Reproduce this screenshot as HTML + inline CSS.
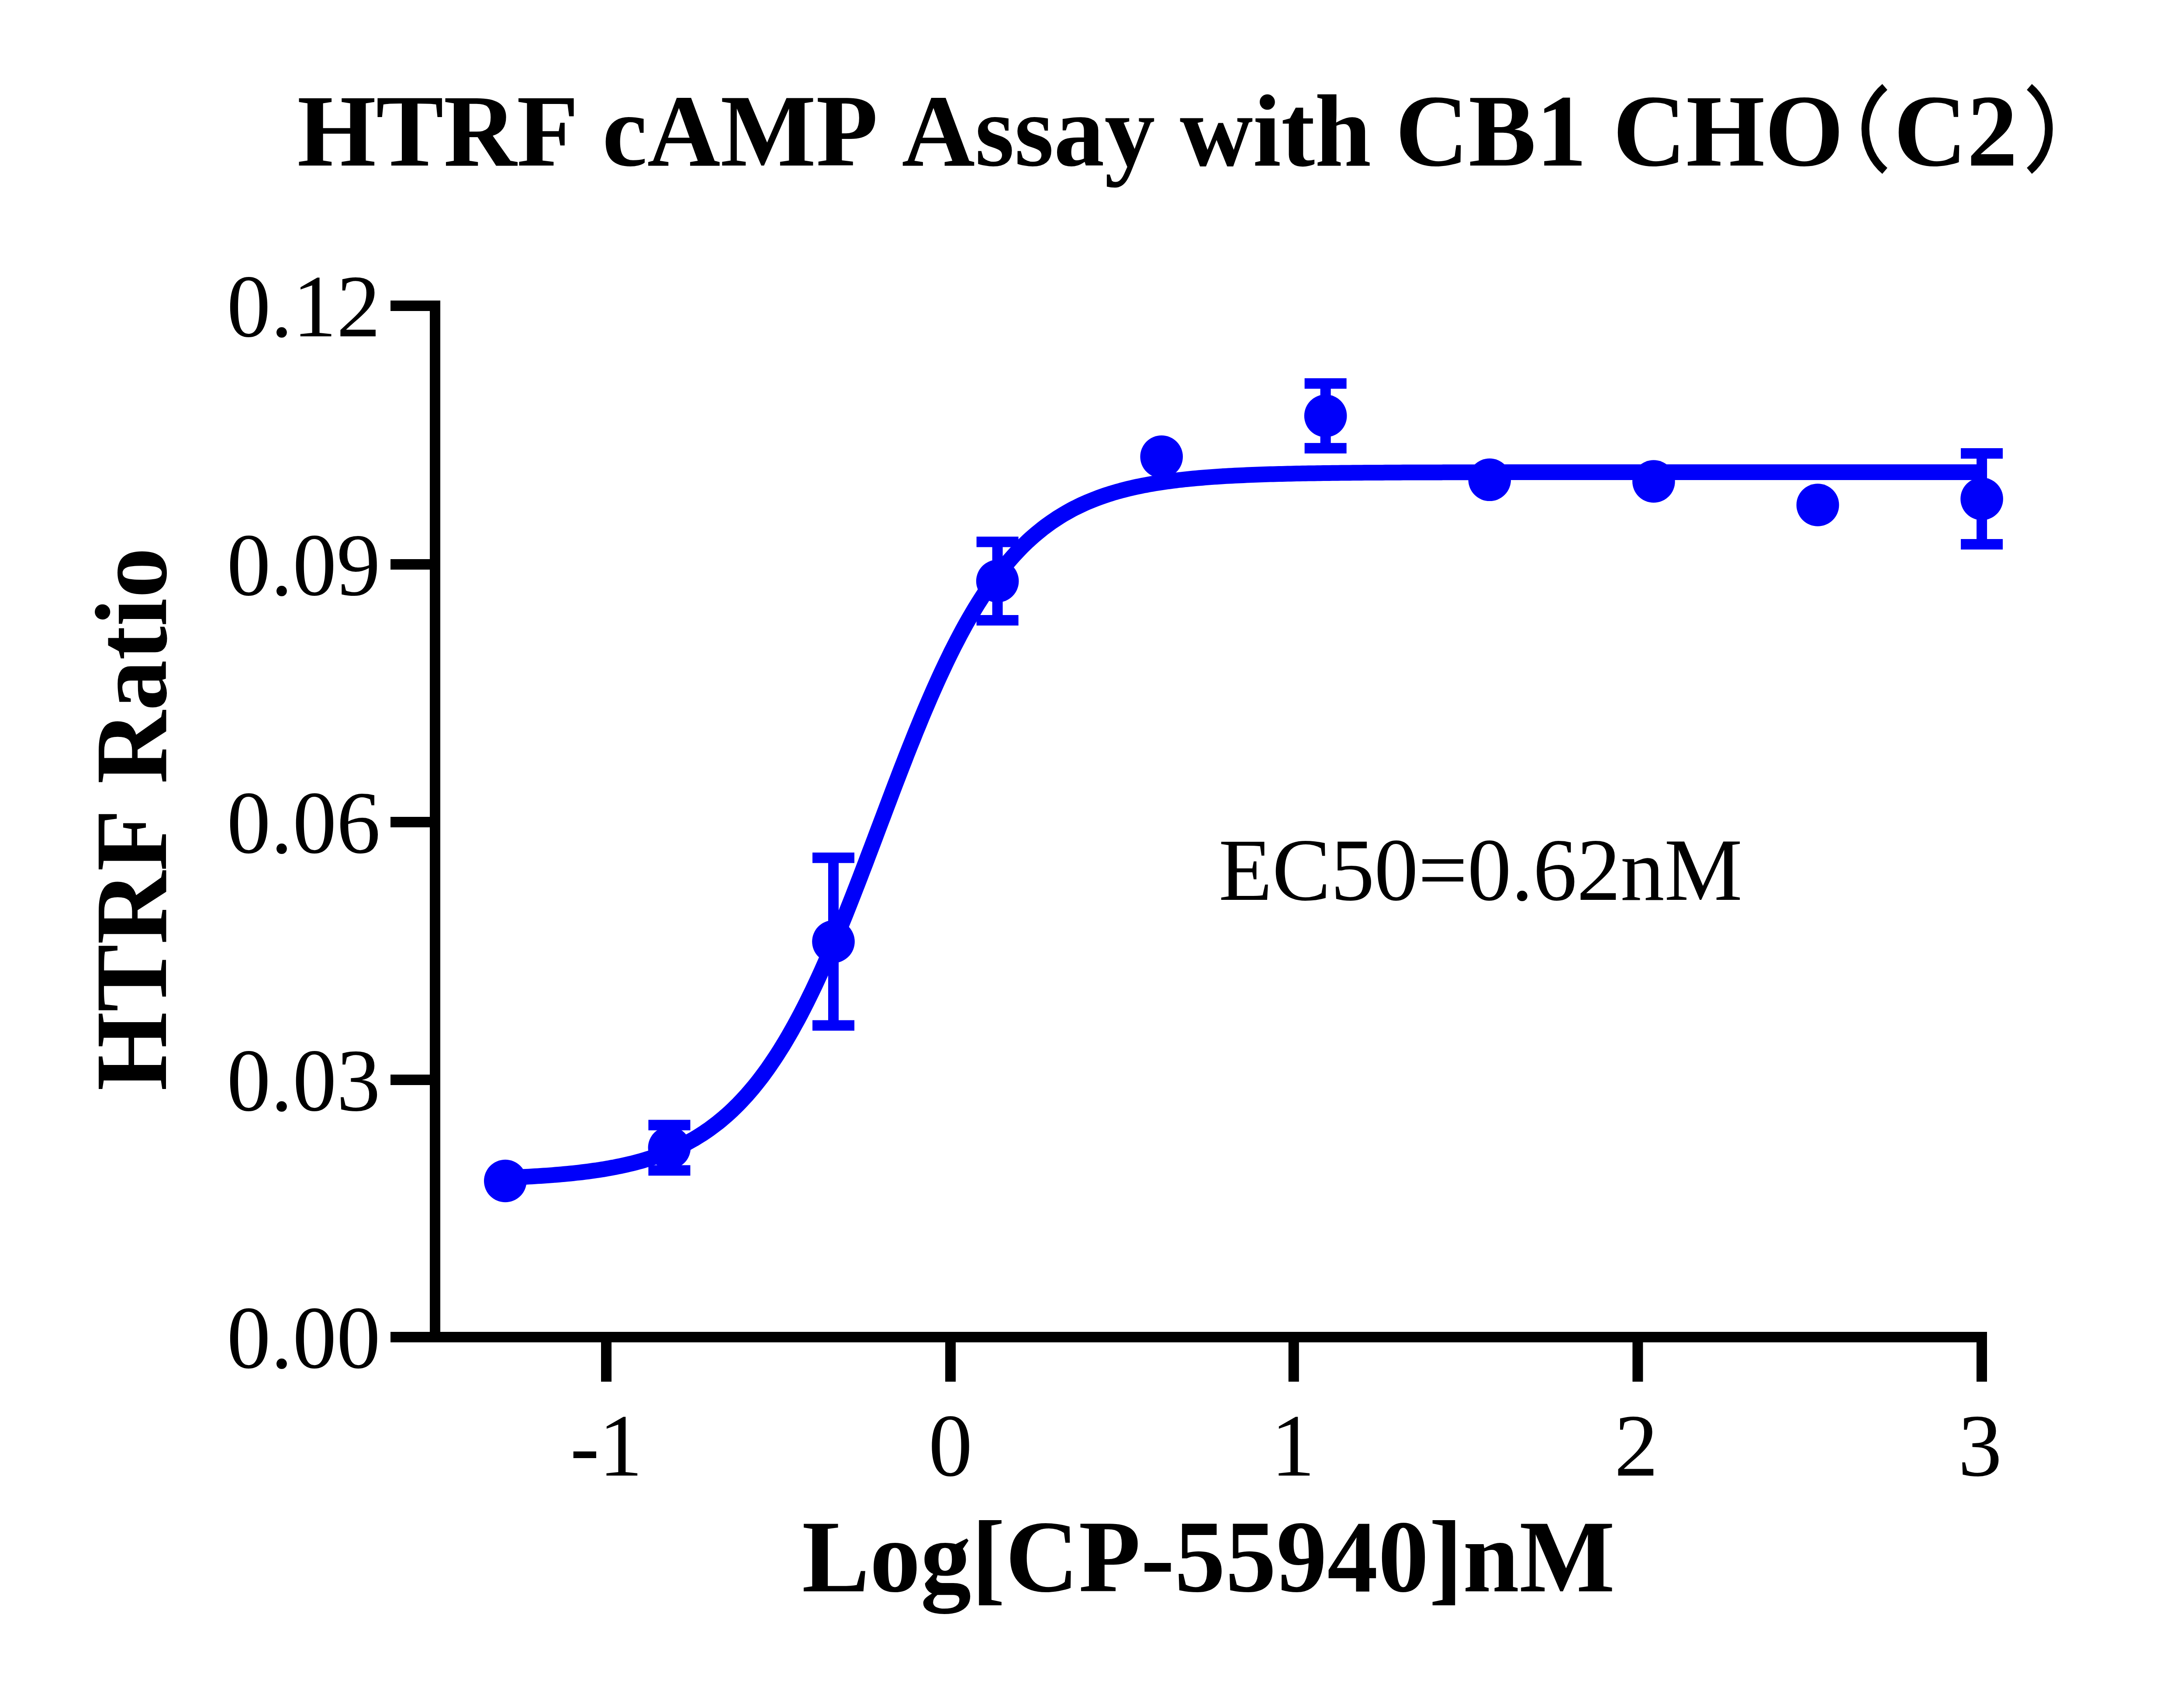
<!DOCTYPE html>
<html><head><meta charset="utf-8"><style>
html,body{margin:0;padding:0;background:#fff;overflow:hidden;}
svg{display:block;}
text{font-kerning:none;}
.r{font-family:"Liberation Serif",serif;font-size:201px;fill:#000;}
.b{font-family:"Liberation Serif",serif;font-size:232px;font-weight:bold;fill:#000;}
</style></head><body>
<svg width="5108" height="3862" viewBox="0 0 5108 3862">
<rect width="5108" height="3862" fill="#fff"/>
<text transform="translate(0 378.50) scale(1 1.0110)" x="680.40" y="0" class="b">HTRF</text>
<text transform="translate(0 378.50) scale(1 1.0110)" x="1378.70" y="0" class="b">cAMP</text>
<text transform="translate(0 378.50) scale(1 1.0110)" x="2064.50" y="0" class="b">Assay</text>
<text transform="translate(0 378.50) scale(1 1.0110)" x="2701.00" y="0" class="b">with</text>
<text transform="translate(0 378.50) scale(1 1.0110)" x="3194.50" y="0" class="b">CB1</text>
<text transform="translate(0 378.50) scale(1 1.0110)" x="3692.60" y="0" class="b">CHO</text>
<text transform="translate(0 378.50) scale(1 1.0110)" x="4335.60" y="0" class="b">C2</text>
<path d="M4315.1 199 A126 126 0 0 0 4315.1 391.2" fill="none" stroke="#000" stroke-width="18"/>
<path d="M4646 199 A126 126 0 0 1 4646 391.2" fill="none" stroke="#000" stroke-width="18"/>
<text transform="translate(380.4 2496.9) rotate(-90) scale(1 1.0110)" x="0" y="0" class="b">HTRF Ratio</text>
<text transform="translate(0 3643.30) scale(1 1.0110)" x="1836.10" y="0" class="b" textLength="1861.2" lengthAdjust="spacing">Log[CP-55940]nM</text>
<text transform="translate(0 2059.90) scale(1 1.0100)" x="2790.00" y="0" class="r" textLength="1198.9" lengthAdjust="spacing">EC50=0.62nM</text>
<rect x="984" y="688" width="24" height="2385" fill="#000"/>
<rect x="894" y="3049" width="3655" height="24" fill="#000"/>
<rect x="894" y="688.00" width="114" height="24" fill="#000"/>
<rect x="894" y="1280.00" width="114" height="24" fill="#000"/>
<rect x="894" y="1870.00" width="114" height="24" fill="#000"/>
<rect x="894" y="2460.00" width="114" height="24" fill="#000"/>
<rect x="894" y="3049.00" width="114" height="24" fill="#000"/>
<rect x="1376.00" y="3049" width="24" height="114" fill="#000"/>
<rect x="2164.00" y="3049" width="24" height="114" fill="#000"/>
<rect x="2949.80" y="3049" width="24" height="114" fill="#000"/>
<rect x="3737.40" y="3049" width="24" height="114" fill="#000"/>
<rect x="4525.00" y="3049" width="24" height="114" fill="#000"/>
<text transform="translate(0 769.70) scale(1 1.0100)" x="871.00" y="0" class="r" text-anchor="end">0.12</text>
<text transform="translate(0 1361.70) scale(1 1.0100)" x="871.00" y="0" class="r" text-anchor="end">0.09</text>
<text transform="translate(0 1951.70) scale(1 1.0100)" x="871.00" y="0" class="r" text-anchor="end">0.06</text>
<text transform="translate(0 2541.70) scale(1 1.0100)" x="871.00" y="0" class="r" text-anchor="end">0.03</text>
<text transform="translate(0 3130.70) scale(1 1.0100)" x="871.00" y="0" class="r" text-anchor="end">0.00</text>
<text transform="translate(0 3377.60) scale(1 1.0100)" x="1305.30" y="0" class="r">-</text>
<text transform="translate(0 3377.60) scale(1 1.0100)" x="1370.65" y="0" class="r">1</text>
<text transform="translate(0 3377.60) scale(1 1.0100)" x="2176.00" y="0" class="r" text-anchor="middle">0</text>
<text transform="translate(0 3377.60) scale(1 1.0100)" x="2909.65" y="0" class="r">1</text>
<text transform="translate(0 3377.60) scale(1 1.0100)" x="3746.00" y="0" class="r" text-anchor="middle">2</text>
<text transform="translate(0 3377.60) scale(1 1.0100)" x="4533.00" y="0" class="r" text-anchor="middle">3</text>
<path d="M1156.8 2696.1 L1163.6 2695.8 L1170.3 2695.6 L1177.1 2695.3 L1183.8 2695.0 L1190.6 2694.6 L1197.4 2694.3 L1204.1 2694.0 L1210.9 2693.6 L1217.6 2693.2 L1224.4 2692.8 L1231.2 2692.4 L1237.9 2692.0 L1244.7 2691.5 L1251.4 2691.1 L1258.2 2690.6 L1265.0 2690.1 L1271.7 2689.5 L1278.5 2689.0 L1285.2 2688.4 L1292.0 2687.8 L1298.8 2687.1 L1305.5 2686.5 L1312.3 2685.8 L1319.0 2685.0 L1325.8 2684.3 L1332.6 2683.5 L1339.3 2682.7 L1346.1 2681.8 L1352.8 2680.9 L1359.6 2679.9 L1366.4 2679.0 L1373.1 2677.9 L1379.9 2676.9 L1386.7 2675.7 L1393.4 2674.6 L1400.2 2673.3 L1406.9 2672.1 L1413.7 2670.7 L1420.5 2669.3 L1427.2 2667.9 L1434.0 2666.4 L1440.7 2664.8 L1447.5 2663.2 L1454.3 2661.5 L1461.0 2659.7 L1467.8 2657.8 L1474.5 2655.9 L1481.3 2653.8 L1488.1 2651.7 L1494.8 2649.5 L1501.6 2647.2 L1508.3 2644.8 L1515.1 2642.3 L1521.9 2639.7 L1528.6 2637.0 L1535.4 2634.2 L1542.1 2631.3 L1548.9 2628.2 L1555.7 2625.0 L1562.4 2621.7 L1569.2 2618.3 L1575.9 2614.7 L1582.7 2610.9 L1589.5 2607.1 L1596.2 2603.0 L1603.0 2598.8 L1609.8 2594.5 L1616.5 2589.9 L1623.3 2585.2 L1630.0 2580.3 L1636.8 2575.2 L1643.6 2570.0 L1650.3 2564.5 L1657.1 2558.8 L1663.8 2552.9 L1670.6 2546.8 L1677.4 2540.5 L1684.1 2533.9 L1690.9 2527.2 L1697.6 2520.1 L1704.4 2512.8 L1711.2 2505.3 L1717.9 2497.5 L1724.7 2489.5 L1731.4 2481.2 L1738.2 2472.6 L1745.0 2463.7 L1751.7 2454.6 L1758.5 2445.2 L1765.2 2435.4 L1772.0 2425.4 L1778.8 2415.1 L1785.5 2404.5 L1792.3 2393.6 L1799.0 2382.4 L1805.8 2370.9 L1812.6 2359.0 L1819.3 2346.9 L1826.1 2334.5 L1832.9 2321.7 L1839.6 2308.7 L1846.4 2295.3 L1853.1 2281.7 L1859.9 2267.8 L1866.7 2253.5 L1873.4 2239.0 L1880.2 2224.2 L1886.9 2209.2 L1893.7 2193.8 L1900.5 2178.3 L1907.2 2162.4 L1914.0 2146.4 L1920.7 2130.1 L1927.5 2113.6 L1934.3 2096.9 L1941.0 2080.0 L1947.8 2062.9 L1954.5 2045.7 L1961.3 2028.3 L1968.1 2010.8 L1974.8 1993.2 L1981.6 1975.5 L1988.3 1957.7 L1995.1 1939.8 L2001.9 1921.9 L2008.6 1904.0 L2015.4 1886.0 L2022.2 1868.1 L2028.9 1850.2 L2035.7 1832.3 L2042.4 1814.5 L2049.2 1796.7 L2056.0 1779.1 L2062.7 1761.5 L2069.5 1744.1 L2076.2 1726.8 L2083.0 1709.7 L2089.8 1692.7 L2096.5 1675.9 L2103.3 1659.4 L2110.0 1643.0 L2116.8 1626.8 L2123.6 1610.9 L2130.3 1595.2 L2137.1 1579.8 L2143.8 1564.7 L2150.6 1549.8 L2157.4 1535.1 L2164.1 1520.8 L2170.9 1506.7 L2177.6 1493.0 L2184.4 1479.5 L2191.2 1466.4 L2197.9 1453.5 L2204.7 1440.9 L2211.4 1428.7 L2218.2 1416.8 L2225.0 1405.1 L2231.7 1393.8 L2238.5 1382.7 L2245.3 1372.0 L2252.0 1361.6 L2258.8 1351.5 L2265.5 1341.6 L2272.3 1332.1 L2279.1 1322.8 L2285.8 1313.9 L2292.6 1305.2 L2299.3 1296.7 L2306.1 1288.6 L2312.9 1280.7 L2319.6 1273.1 L2326.4 1265.7 L2333.1 1258.6 L2339.9 1251.7 L2346.7 1245.0 L2353.4 1238.6 L2360.2 1232.4 L2366.9 1226.5 L2373.7 1220.7 L2380.5 1215.2 L2387.2 1209.8 L2394.0 1204.6 L2400.7 1199.7 L2407.5 1194.9 L2414.3 1190.3 L2421.0 1185.9 L2427.8 1181.6 L2434.5 1177.5 L2441.3 1173.6 L2448.1 1169.8 L2454.8 1166.1 L2461.6 1162.6 L2468.4 1159.3 L2475.1 1156.0 L2481.9 1152.9 L2488.6 1149.9 L2495.4 1147.1 L2502.2 1144.3 L2508.9 1141.7 L2515.7 1139.1 L2522.4 1136.7 L2529.2 1134.4 L2536.0 1132.1 L2542.7 1130.0 L2549.5 1127.9 L2556.2 1125.9 L2563.0 1124.1 L2569.8 1122.2 L2576.5 1120.5 L2583.3 1118.8 L2590.0 1117.2 L2596.8 1115.7 L2603.6 1114.2 L2610.3 1112.8 L2617.1 1111.4 L2623.8 1110.2 L2630.6 1108.9 L2637.4 1107.7 L2644.1 1106.6 L2650.9 1105.5 L2657.6 1104.4 L2664.4 1103.4 L2671.2 1102.5 L2677.9 1101.6 L2684.7 1100.7 L2691.5 1099.8 L2698.2 1099.0 L2705.0 1098.3 L2711.7 1097.5 L2718.5 1096.8 L2725.3 1096.1 L2732.0 1095.5 L2738.8 1094.9 L2745.5 1094.3 L2752.3 1093.7 L2759.1 1093.1 L2765.8 1092.6 L2772.6 1092.1 L2779.3 1091.6 L2786.1 1091.2 L2792.9 1090.8 L2799.6 1090.3 L2806.4 1089.9 L2813.1 1089.5 L2819.9 1089.2 L2826.7 1088.8 L2833.4 1088.5 L2840.2 1088.2 L2846.9 1087.9 L2853.7 1087.6 L2860.5 1087.3 L2867.2 1087.0 L2874.0 1086.7 L2880.7 1086.5 L2887.5 1086.3 L2894.3 1086.0 L2901.0 1085.8 L2907.8 1085.6 L2914.6 1085.4 L2921.3 1085.2 L2928.1 1085.0 L2934.8 1084.9 L2941.6 1084.7 L2948.4 1084.5 L2955.1 1084.4 L2961.9 1084.2 L2968.6 1084.1 L2975.4 1084.0 L2982.2 1083.8 L2988.9 1083.7 L2995.7 1083.6 L3002.4 1083.5 L3009.2 1083.4 L3016.0 1083.3 L3022.7 1083.2 L3029.5 1083.1 L3036.2 1083.0 L3043.0 1082.9 L3049.8 1082.8 L3056.5 1082.7 L3063.3 1082.7 L3070.0 1082.6 L3076.8 1082.5 L3083.6 1082.5 L3090.3 1082.4 L3097.1 1082.3 L3103.8 1082.3 L3110.6 1082.2 L3117.4 1082.2 L3124.1 1082.1 L3130.9 1082.1 L3137.7 1082.0 L3144.4 1082.0 L3151.2 1081.9 L3157.9 1081.9 L3164.7 1081.9 L3171.5 1081.8 L3178.2 1081.8 L3185.0 1081.8 L3191.7 1081.7 L3198.5 1081.7 L3205.3 1081.7 L3212.0 1081.6 L3218.8 1081.6 L3225.5 1081.6 L3232.3 1081.6 L3239.1 1081.5 L3245.8 1081.5 L3252.6 1081.5 L3259.3 1081.5 L3266.1 1081.4 L3272.9 1081.4 L3279.6 1081.4 L3286.4 1081.4 L3293.1 1081.4 L3299.9 1081.4 L3306.7 1081.3 L3313.4 1081.3 L3320.2 1081.3 L3326.9 1081.3 L3333.7 1081.3 L3340.5 1081.3 L3347.2 1081.3 L3354.0 1081.2 L3360.8 1081.2 L3367.5 1081.2 L3374.3 1081.2 L3381.0 1081.2 L3387.8 1081.2 L3394.6 1081.2 L3401.3 1081.2 L3408.1 1081.2 L3414.8 1081.2 L3421.6 1081.2 L3428.4 1081.2 L3435.1 1081.1 L3441.9 1081.1 L3448.6 1081.1 L3455.4 1081.1 L3462.2 1081.1 L3468.9 1081.1 L3475.7 1081.1 L3482.4 1081.1 L3489.2 1081.1 L3496.0 1081.1 L3502.7 1081.1 L3509.5 1081.1 L3516.2 1081.1 L3523.0 1081.1 L3529.8 1081.1 L3536.5 1081.1 L3543.3 1081.1 L3550.0 1081.1 L3556.8 1081.1 L3563.6 1081.1 L3570.3 1081.1 L3577.1 1081.1 L3583.9 1081.1 L3590.6 1081.1 L3597.4 1081.1 L3604.1 1081.0 L3610.9 1081.0 L3617.7 1081.0 L3624.4 1081.0 L3631.2 1081.0 L3637.9 1081.0 L3644.7 1081.0 L3651.5 1081.0 L3658.2 1081.0 L3665.0 1081.0 L3671.7 1081.0 L3678.5 1081.0 L3685.3 1081.0 L3692.0 1081.0 L3698.8 1081.0 L3705.5 1081.0 L3712.3 1081.0 L3719.1 1081.0 L3725.8 1081.0 L3732.6 1081.0 L3739.3 1081.0 L3746.1 1081.0 L3752.9 1081.0 L3759.6 1081.0 L3766.4 1081.0 L3773.2 1081.0 L3779.9 1081.0 L3786.7 1081.0 L3793.4 1081.0 L3800.2 1081.0 L3807.0 1081.0 L3813.7 1081.0 L3820.5 1081.0 L3827.2 1081.0 L3834.0 1081.0 L3840.8 1081.0 L3847.5 1081.0 L3854.3 1081.0 L3861.0 1081.0 L3867.8 1081.0 L3874.6 1081.0 L3881.3 1081.0 L3888.1 1081.0 L3894.8 1081.0 L3901.6 1081.0 L3908.4 1081.0 L3915.1 1081.0 L3921.9 1081.0 L3928.6 1081.0 L3935.4 1081.0 L3942.2 1081.0 L3948.9 1081.0 L3955.7 1081.0 L3962.4 1081.0 L3969.2 1081.0 L3976.0 1081.0 L3982.7 1081.0 L3989.5 1081.0 L3996.3 1081.0 L4003.0 1081.0 L4009.8 1081.0 L4016.5 1081.0 L4023.3 1081.0 L4030.1 1081.0 L4036.8 1081.0 L4043.6 1081.0 L4050.3 1081.0 L4057.1 1081.0 L4063.9 1081.0 L4070.6 1081.0 L4077.4 1081.0 L4084.1 1081.0 L4090.9 1081.0 L4097.7 1081.0 L4104.4 1081.0 L4111.2 1081.0 L4117.9 1081.0 L4124.7 1081.0 L4131.5 1081.0 L4138.2 1081.0 L4145.0 1081.0 L4151.7 1081.0 L4158.5 1081.0 L4165.3 1081.0 L4172.0 1081.0 L4178.8 1081.0 L4185.5 1081.0 L4192.3 1081.0 L4199.1 1081.0 L4205.8 1081.0 L4212.6 1081.0 L4219.4 1081.0 L4226.1 1081.0 L4232.9 1081.0 L4239.6 1081.0 L4246.4 1081.0 L4253.2 1081.0 L4259.9 1081.0 L4266.7 1081.0 L4273.4 1081.0 L4280.2 1081.0 L4287.0 1081.0 L4293.7 1081.0 L4300.5 1081.0 L4307.2 1081.0 L4314.0 1081.0 L4320.8 1081.0 L4327.5 1081.0 L4334.3 1081.0 L4341.0 1081.0 L4347.8 1081.0 L4354.6 1081.0 L4361.3 1081.0 L4368.1 1081.0 L4374.8 1081.0 L4381.6 1081.0 L4388.4 1081.0 L4395.1 1081.0 L4401.9 1081.0 L4408.6 1081.0 L4415.4 1081.0 L4422.2 1081.0 L4428.9 1081.0 L4435.7 1081.0 L4442.5 1081.0 L4449.2 1081.0 L4456.0 1081.0 L4462.7 1081.0 L4469.5 1081.0 L4476.3 1081.0 L4483.0 1081.0 L4489.8 1081.0 L4496.5 1081.0 L4503.3 1081.0 L4510.1 1081.0 L4516.8 1081.0 L4523.6 1081.0 L4530.3 1081.0 L4537.1 1081.0" fill="none" stroke="#0000fa" stroke-width="36" stroke-linejoin="round"/>
<circle cx="1156.8" cy="2703.5" r="48.8" fill="#0000fa"/>
<rect x="1520.4" y="2575.6" width="24" height="103.8" fill="#0000fa"/>
<rect x="1484.4" y="2563.6" width="96" height="24" fill="#0000fa"/>
<rect x="1484.4" y="2667.4" width="96" height="24" fill="#0000fa"/>
<circle cx="1532.4" cy="2627.5" r="48.8" fill="#0000fa"/>
<rect x="1896.0" y="1963.7" width="24" height="383.8" fill="#0000fa"/>
<rect x="1860.0" y="1951.7" width="96" height="24" fill="#0000fa"/>
<rect x="1860.0" y="2335.5" width="96" height="24" fill="#0000fa"/>
<circle cx="1908.0" cy="2155.6" r="48.8" fill="#0000fa"/>
<rect x="2271.6" y="1240.5" width="24" height="179.5" fill="#0000fa"/>
<rect x="2235.6" y="1228.5" width="96" height="24" fill="#0000fa"/>
<rect x="2235.6" y="1408.0" width="96" height="24" fill="#0000fa"/>
<circle cx="2283.6" cy="1330.3" r="48.8" fill="#0000fa"/>
<circle cx="2659.2" cy="1045.5" r="48.8" fill="#0000fa"/>
<rect x="3022.7" y="877.9" width="24" height="148.2" fill="#0000fa"/>
<rect x="2986.7" y="865.9" width="96" height="24" fill="#0000fa"/>
<rect x="2986.7" y="1014.1" width="96" height="24" fill="#0000fa"/>
<circle cx="3034.7" cy="952.0" r="48.8" fill="#0000fa"/>
<circle cx="3410.3" cy="1098.3" r="48.8" fill="#0000fa"/>
<circle cx="3785.9" cy="1102.0" r="48.8" fill="#0000fa"/>
<circle cx="4161.5" cy="1156.0" r="48.8" fill="#0000fa"/>
<rect x="4525.1" y="1038.0" width="24" height="208.0" fill="#0000fa"/>
<rect x="4489.1" y="1026.0" width="96" height="24" fill="#0000fa"/>
<rect x="4489.1" y="1234.0" width="96" height="24" fill="#0000fa"/>
<circle cx="4537.1" cy="1142.0" r="48.8" fill="#0000fa"/>
</svg>
</body></html>
